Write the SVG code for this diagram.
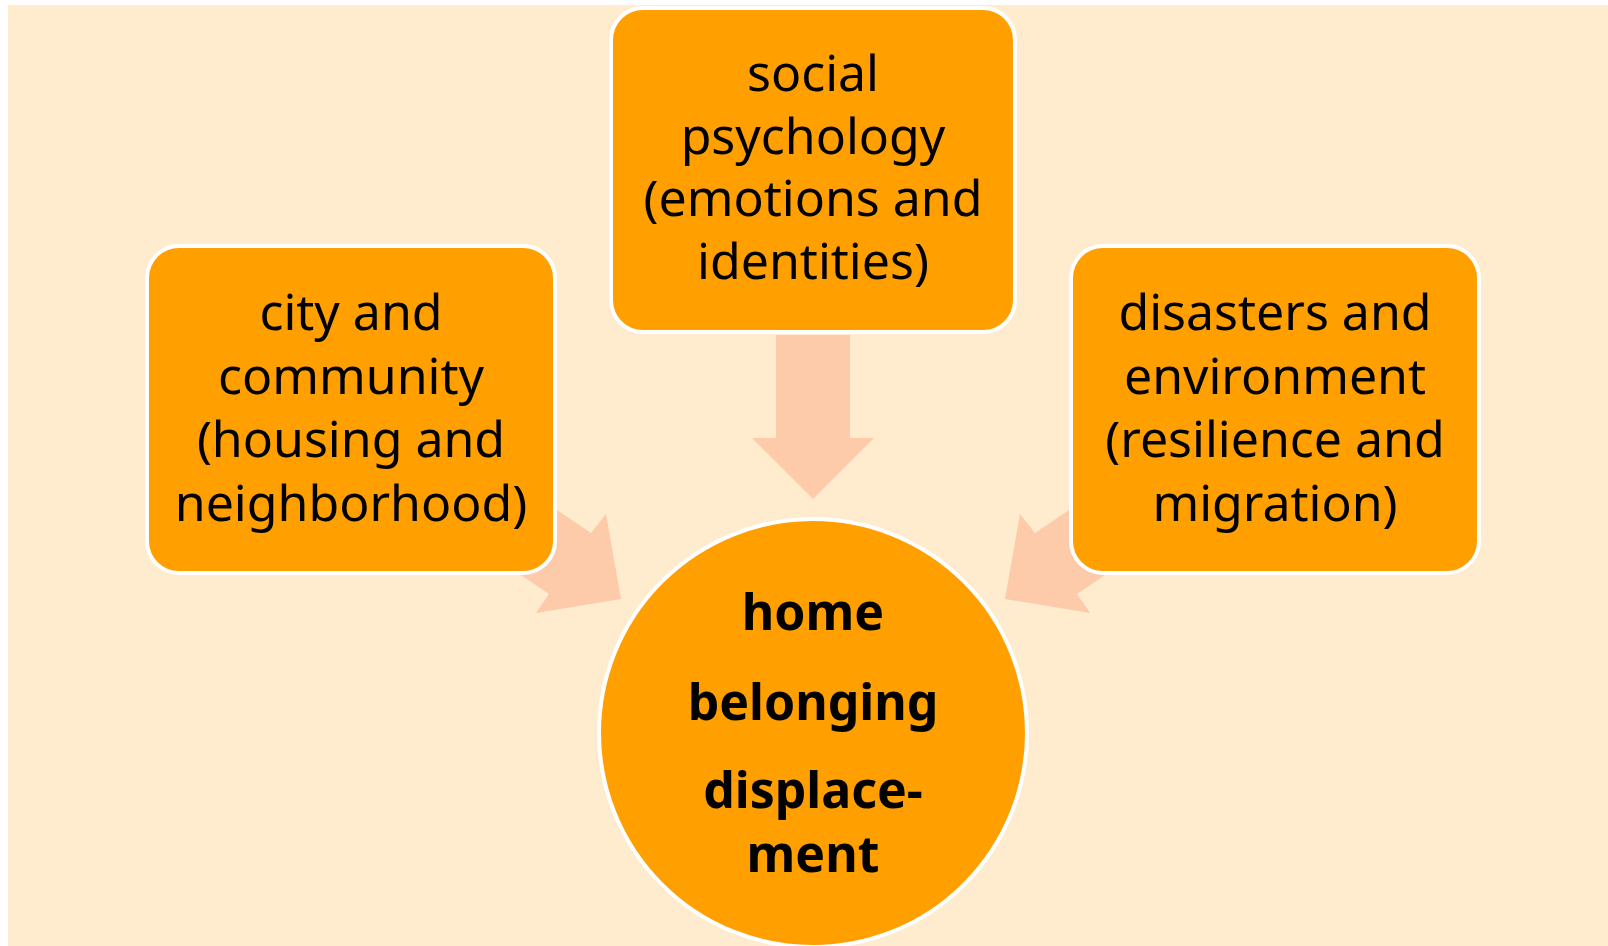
<svg xmlns="http://www.w3.org/2000/svg" width="1608" height="946" viewBox="0 0 1608 946">
  <style>
    .box { fill: #FF9F00; stroke: #FFFFFF; stroke-width: 4; }
    .arrow { fill: #FDCBA9; stroke: none; }
    .label { font-family: "Noto Sans", "Open Sans", sans-serif; font-size: 50px; fill: #000000; text-anchor: middle; }
    .core { font-family: "Noto Sans", "Open Sans", sans-serif; font-size: 50px; font-weight: bold; fill: #000000; text-anchor: middle; }
  </style>

  <!-- page -->
  <rect x="0" y="0" width="1608" height="946" fill="#FFFFFF"/>
  <rect x="8" y="5" width="1600" height="941" fill="#FFEBCD"/>

  <!-- block arrows pointing at the centre circle -->
  <g id="connectors">
    <polygon class="arrow" points="776,335 850,335 850,438 874,438 813,499 752,438 776,438"/>
    <polygon class="arrow" points="489,464 591,533 606,514 621,599 536,613 549,594 447,525"/>
    <polygon class="arrow" points="1137,464 1035,533 1020,514 1005,599 1090,613 1077,594 1179,525"/>
  </g>

  <g id="node-social">
    <rect class="box" x="611" y="8" width="404" height="324" rx="32" ry="32"/>
    <text class="label" x="813" y="91">social</text>
    <text class="label" x="813" y="153.5">psychology</text>
    <text class="label" x="813" y="216">(emotions and</text>
    <text class="label" x="813" y="278.5">identities)</text>
  </g>

  <g id="node-city">
    <rect class="box" x="147" y="246" width="408" height="327" rx="32" ry="32"/>
    <text class="label" x="351" y="330">city and</text>
    <text class="label" x="351" y="393.5">community</text>
    <text class="label" x="351" y="457">(housing and</text>
    <text class="label" x="351" y="520.5">neighborhood)</text>
  </g>

  <g id="node-disasters">
    <rect class="box" x="1071" y="246" width="408" height="327" rx="32" ry="32"/>
    <text class="label" x="1275" y="330">disasters and</text>
    <text class="label" x="1275" y="393.5">environment</text>
    <text class="label" x="1275" y="457">(resilience and</text>
    <text class="label" x="1275" y="520.5">migration)</text>
  </g>

  <g id="node-home">
    <circle class="box" cx="813" cy="733" r="214"/>
    <text class="core" x="813" y="630">home</text>
    <text class="core" x="813" y="720">belonging</text>
    <text class="core" x="813" y="808">displace-</text>
    <text class="core" x="813" y="872">ment</text>
  </g>
</svg>
